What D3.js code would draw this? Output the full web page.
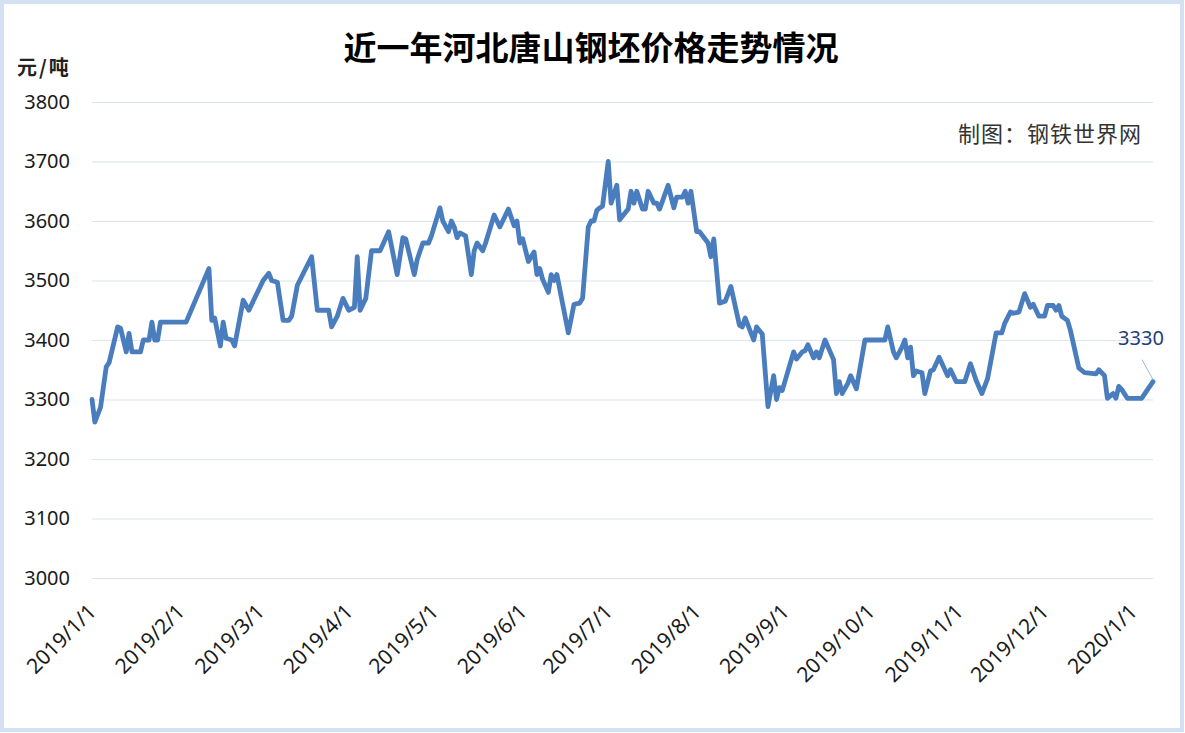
<!DOCTYPE html>
<html>
<head>
<meta charset="utf-8">
<script src="https://cdn.jsdelivr.net/npm/d3@7/dist/d3.min.js"></script>
<style>
    html, body { margin: 0; padding: 0; background: #fff; }
    svg { display: block; }
</style>
</head>
<body>
<svg id="chart"></svg>
<script>
// 日期（交易日拐点）
var dates = [
    "2019/1/1", "2019/1/2", "2019/1/4", "2019/1/6", "2019/1/7", "2019/1/10", "2019/1/11", "2019/1/13",
    "2019/1/14", "2019/1/15", "2019/1/18", "2019/1/19", "2019/1/21", "2019/1/22", "2019/1/23", "2019/1/24",
    "2019/1/25", "2019/2/3", "2019/2/11", "2019/2/12", "2019/2/13", "2019/2/15", "2019/2/16", "2019/2/17",
    "2019/2/19", "2019/2/20", "2019/2/23", "2019/2/25", "2019/3/2", "2019/3/4", "2019/3/5", "2019/3/7",
    "2019/3/9", "2019/3/11", "2019/3/12", "2019/3/14", "2019/3/19", "2019/3/21", "2019/3/25", "2019/3/26",
    "2019/3/28", "2019/3/30", "2019/4/1", "2019/4/3", "2019/4/4", "2019/4/5", "2019/4/7", "2019/4/9",
    "2019/4/12", "2019/4/15", "2019/4/18", "2019/4/20", "2019/4/21", "2019/4/24", "2019/4/25", "2019/4/27",
    "2019/4/29", "2019/4/30", "2019/5/3", "2019/5/4", "2019/5/6", "2019/5/7", "2019/5/8", "2019/5/9",
    "2019/5/10", "2019/5/12", "2019/5/14", "2019/5/15", "2019/5/16", "2019/5/18", "2019/5/19", "2019/5/22",
    "2019/5/24", "2019/5/27", "2019/5/29", "2019/5/30", "2019/5/31", "2019/6/1", "2019/6/3", "2019/6/5",
    "2019/6/6", "2019/6/7", "2019/6/8", "2019/6/10", "2019/6/11", "2019/6/12", "2019/6/13", "2019/6/17",
    "2019/6/19", "2019/6/21", "2019/6/22", "2019/6/24", "2019/6/25", "2019/6/26", "2019/6/27", "2019/6/28",
    "2019/6/29", "2019/7/1", "2019/7/2", "2019/7/4", "2019/7/5", "2019/7/8", "2019/7/9", "2019/7/10",
    "2019/7/11", "2019/7/13", "2019/7/14", "2019/7/15", "2019/7/17", "2019/7/18", "2019/7/19", "2019/7/22",
    "2019/7/24", "2019/7/25", "2019/7/27", "2019/7/28", "2019/7/29", "2019/7/30", "2019/8/1", "2019/8/2",
    "2019/8/5", "2019/8/6", "2019/8/7", "2019/8/9", "2019/8/11", "2019/8/13", "2019/8/16", "2019/8/17",
    "2019/8/18", "2019/8/21", "2019/8/22", "2019/8/24", "2019/8/26", "2019/8/28", "2019/8/29", "2019/8/30",
    "2019/8/31", "2019/9/4", "2019/9/5", "2019/9/7", "2019/9/8", "2019/9/9", "2019/9/11", "2019/9/12",
    "2019/9/13", "2019/9/15", "2019/9/18", "2019/9/19", "2019/9/20", "2019/9/21", "2019/9/23", "2019/9/24",
    "2019/9/26", "2019/9/29", "2019/10/6", "2019/10/7", "2019/10/9", "2019/10/10", "2019/10/12", "2019/10/13",
    "2019/10/14", "2019/10/15", "2019/10/16", "2019/10/17", "2019/10/19", "2019/10/20", "2019/10/22", "2019/10/23",
    "2019/10/25", "2019/10/28", "2019/10/29", "2019/10/31", "2019/11/3", "2019/11/5", "2019/11/7", "2019/11/9",
    "2019/11/11", "2019/11/14", "2019/11/16", "2019/11/17", "2019/11/19", "2019/11/20", "2019/11/22", "2019/11/24",
    "2019/11/26", "2019/11/27", "2019/11/29", "2019/12/1", "2019/12/2", "2019/12/4", "2019/12/5", "2019/12/6",
    "2019/12/7", "2019/12/9", "2019/12/10", "2019/12/13", "2019/12/15", "2019/12/19", "2019/12/20", "2019/12/22",
    "2019/12/23", "2019/12/25", "2019/12/26", "2019/12/27", "2019/12/28", "2019/12/30", "2020/1/4", "2020/1/8"
];

// 价格（元/吨）
var prices = [
    3300, 3262, 3287, 3355, 3362, 3422, 3420, 3380,
    3411, 3380, 3380, 3400, 3400, 3430, 3400, 3400,
    3430, 3430, 3520, 3433, 3437, 3390, 3430, 3403,
    3400, 3390, 3467, 3450, 3500, 3512, 3500, 3497,
    3433, 3433, 3440, 3492, 3540, 3450, 3450, 3422,
    3440, 3470, 3450, 3455, 3540, 3450, 3470, 3550,
    3550, 3582, 3510, 3572, 3570, 3510, 3535, 3563,
    3563, 3575, 3622, 3600, 3582, 3600, 3590, 3572,
    3580, 3575, 3510, 3550, 3563, 3550, 3563, 3610,
    3590, 3620, 3592, 3600, 3563, 3570, 3532, 3548,
    3510, 3520, 3502, 3480, 3510, 3500, 3510, 3412,
    3460, 3462, 3470, 3590, 3600, 3600, 3618, 3622,
    3625, 3700, 3630, 3660, 3602, 3620, 3650, 3630,
    3650, 3620, 3620, 3650, 3630, 3630, 3620, 3660,
    3622, 3640, 3640, 3650, 3630, 3650, 3582, 3582,
    3563, 3540, 3570, 3462, 3465, 3490, 3425, 3422,
    3437, 3400, 3422, 3410, 3288, 3340, 3300, 3320,
    3315, 3380, 3368, 3380, 3382, 3392, 3370, 3380,
    3370, 3400, 3367, 3310, 3330, 3310, 3327, 3340,
    3318, 3400, 3400, 3422, 3380, 3370, 3388, 3400,
    3370, 3388, 3340, 3348, 3345, 3310, 3348, 3350,
    3371, 3340, 3350, 3330, 3330, 3360, 3332, 3310,
    3335, 3412, 3412, 3428, 3447, 3445, 3447, 3478,
    3455, 3460, 3440, 3440, 3458, 3458, 3450, 3458,
    3440, 3433, 3417, 3353, 3345, 3343, 3350, 3340,
    3302, 3310, 3302, 3322, 3317, 3302, 3302, 3330
];

// 坐标刻度
var yTicks = [3000, 3100, 3200, 3300, 3400, 3500, 3600, 3700, 3800];
var monthTicks = [
    "2019/1/1", "2019/2/1", "2019/3/1", "2019/4/1", "2019/5/1", "2019/6/1", "2019/7/1",
    "2019/8/1", "2019/9/1", "2019/10/1", "2019/11/1", "2019/12/1", "2020/1/1"
];
var axisStart = "2019/1/1", axisEnd = "2020/1/8";

var cfg = {
    "width": 1185,
    "height": 733,
    "plot": { "left": 92, "right": 1153, "top": 102, "bottom": 578 },
    "lineColor": "#4a7dbd",
    "gridColor": "#d9e3f1",
    "numFont": "'Noto Sans', 'DejaVu Sans', sans-serif",
    "cjkFont": "'Noto Sans CJK SC', 'Noto Sans', sans-serif"
};

var parseDate = d3.timeParse("%Y/%-m/%-d");
var fmtDate = d3.timeFormat("%Y/%-m/%-d");

var data = dates.map(function (d, i) {
    return { "date": parseDate(d), "value": prices[i] };
});

var svg = d3.select("#chart").attr("width", cfg.width).attr("height", cfg.height);

var x = d3.scaleTime()
    .domain([parseDate(axisStart), parseDate(axisEnd)])
    .range([cfg.plot.left, cfg.plot.right]);
var y = d3.scaleLinear()
    .domain([yTicks[0], yTicks[yTicks.length - 1]])
    .range([cfg.plot.bottom, cfg.plot.top]);

// 外边框
svg.append("rect")
    .attr("x", 2).attr("y", 2)
    .attr("width", cfg.width - 5).attr("height", cfg.height - 5)
    .attr("fill", "#fff")
    .attr("stroke", "#d3e1f3")
    .attr("stroke-width", 4);

// 纵轴 + 网格线
var yAxis = d3.axisLeft(y)
    .tickValues(yTicks)
    .tickSize(-(cfg.plot.right - cfg.plot.left))
    .tickPadding(22)
    .tickFormat(d3.format("d"));
var gy = svg.append("g")
    .attr("transform", "translate(" + cfg.plot.left + ",0)")
    .call(yAxis);
gy.select(".domain").remove();
gy.selectAll("line").attr("stroke", cfg.gridColor).attr("stroke-width", 1);
gy.selectAll("text")
    .attr("fill", "#1a1a1a")
    .style("font-family", cfg.numFont)
    .style("font-size", "20px");

// 横轴（日期）
var xAxis = d3.axisBottom(x)
    .tickValues(monthTicks.map(parseDate))
    .tickSize(0)
    .tickFormat(fmtDate);
var gx = svg.append("g")
    .attr("transform", "translate(0," + cfg.plot.bottom + ")")
    .call(xAxis);
gx.select(".domain").remove();
gx.selectAll("text")
    .attr("y", 0).attr("dy", 0)
    .attr("transform", "translate(5,35) rotate(-45)")
    .attr("text-anchor", "end")
    .attr("fill", "#1a1a1a")
    .style("font-family", cfg.numFont)
    .style("font-size", "21px");

// 折线
var line = d3.line()
    .x(function (d) { return x(d.date); })
    .y(function (d) { return y(d.value); });
svg.append("path")
    .datum(data)
    .attr("d", line)
    .attr("fill", "none")
    .attr("stroke", cfg.lineColor)
    .attr("stroke-width", 4.8)
    .attr("stroke-linejoin", "round")
    .attr("stroke-linecap", "round");

// 末值标注
var last = data[data.length - 1];
var lx = x(last.date), ly = y(last.value);
svg.append("line")
    .attr("x1", lx - 11).attr("y1", ly - 22)
    .attr("x2", lx).attr("y2", ly - 2)
    .attr("stroke", "#9cb9e0")
    .attr("stroke-width", 1);
svg.append("text")
    .attr("x", lx - 12).attr("y", ly - 37)
    .attr("text-anchor", "middle")
    .attr("fill", "#1f3f7a")
    .style("font-family", cfg.numFont)
    .style("font-size", "20px")
    .text(last.value);

// 标题、单位、来源
svg.append("text")
    .attr("x", 591).attr("y", 60)
    .attr("text-anchor", "middle")
    .attr("fill", "#000")
    .style("font-family", cfg.cjkFont)
    .style("font-weight", "bold")
    .style("font-size", "33px")
    .text("近一年河北唐山钢坯价格走势情况");

svg.append("text")
    .attr("x", 17).attr("y", 75)
    .attr("fill", "#222")
    .style("font-family", cfg.cjkFont)
    .style("font-weight", "bold")
    .style("font-size", "20px")
    .style("letter-spacing", "2px")
    .text("元/吨");

svg.append("text")
    .attr("x", 958).attr("y", 142)
    .attr("fill", "#333")
    .style("font-family", cfg.cjkFont)
    .style("font-size", "22px")
    .style("letter-spacing", "1px")
    .text("制图：钢铁世界网");
</script>
</body>
</html>
